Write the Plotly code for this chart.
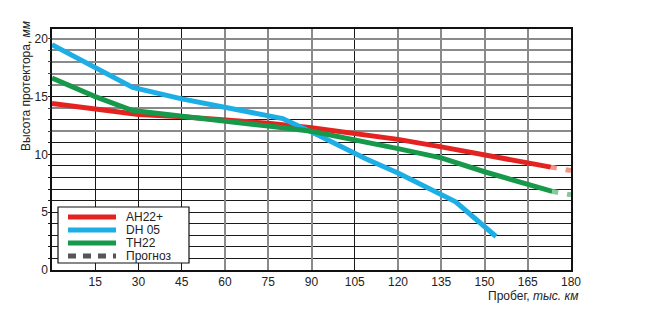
import plotly.graph_objects as go

# ---- data ----
km_ah = [0, 15, 30, 45, 60, 75, 90, 105, 120, 135, 150, 173]
ah22 = [14.4, 13.9, 13.45, 13.25, 13.0, 12.7, 12.3, 11.85, 11.3, 10.65, 9.95, 8.9]
km_ah_fc = [173, 180]
ah22_fc = [8.9, 8.6]

km_dh = [0, 15, 28, 45, 60, 80, 92, 109, 120, 135, 140, 154]
dh05 = [19.5, 17.5, 15.8, 14.8, 14.1, 13.1, 11.7, 9.6, 8.4, 6.6, 5.9, 2.9]

km_th = [0, 15, 28, 45, 60, 75, 90, 105, 120, 135, 150, 173.5]
th22 = [16.6, 15.0, 13.8, 13.35, 12.95, 12.45, 12.0, 11.3, 10.5, 9.7, 8.5, 6.8]
km_th_fc = [173.5, 180]
th22_fc = [6.8, 6.5]

series_names = ["AH22+", "DH 05", "TH22", "Прогноз"]
x_ticks = [15, 30, 45, 60, 75, 90, 105, 120, 135, 150, 165, 180]
y_ticks = [0, 5, 10, 15, 20]
x_dark = [15, 30, 45, 105]
x_light = [60, 75, 90, 120, 135, 150, 165]
y_dark = [1, 2, 3, 4, 5, 6, 7, 8, 9, 10, 11, 13, 15]
y_light = [12, 14, 16, 17, 18, 19, 20]

FONT = "Liberation Sans Narrow, Arial Narrow, Liberation Sans, Arial, sans-serif"
RED, BLUE, GREEN, GREY = "#e42320", "#1eaee6", "#16994a", "#555555"
COLORS = [RED, BLUE, GREEN, GREY]

# plot-area geometry (pixels)
W, H = 660, 310
L, R, T, B = 52, 89, 29, 40
PW, PH = W - L - R, H - T - B


def px(xp):
    return (xp - L) / PW


def py(yp):
    return (H - B - yp) / PH


fig = go.Figure()
# grid carrier traces (drawn first)
fig.add_trace(go.Scatter(x=[None], y=[None], xaxis="x3", yaxis="y3", showlegend=False))
fig.add_trace(go.Scatter(x=[None], y=[None], xaxis="x2", yaxis="y2", showlegend=False))

fig.add_trace(go.Scatter(x=km_ah, y=ah22, mode="lines", name=series_names[0],
                         line=dict(color=RED, width=5)))
fig.add_trace(go.Scatter(x=km_dh, y=dh05, mode="lines", name=series_names[1],
                         line=dict(color=BLUE, width=5)))
fig.add_trace(go.Scatter(x=km_th, y=th22, mode="lines", name=series_names[2],
                         line=dict(color=GREEN, width=5)))
fig.add_trace(go.Scatter(x=km_ah_fc, y=ah22_fc, mode="lines", name=series_names[3],
                         line=dict(color="#f0958a", width=5, dash="6px,9px")))
fig.add_trace(go.Scatter(x=km_th_fc, y=th22_fc, mode="lines", name=series_names[3],
                         line=dict(color="#86c79c", width=5, dash="6px,9px")))

fig.update_layout(
    width=W, height=H,
    margin=dict(l=L, r=R, t=T, b=B),
    paper_bgcolor="white", plot_bgcolor="rgba(0,0,0,0)",
    font=dict(family=FONT, size=12, color="#222"),
    showlegend=False,
    xaxis=dict(range=[0, 180], tickvals=x_ticks, ticks="", showgrid=False,
               showline=True, linecolor="#111", linewidth=1.5, mirror=True,
               zeroline=False, tickfont=dict(size=12)),
    yaxis=dict(range=[0, 20.85], tickvals=y_ticks, ticks="", showgrid=False,
               showline=True, linecolor="#111", linewidth=1.5, mirror=True,
               zeroline=False, tickfont=dict(size=12), ticksuffix="  "),
    xaxis2=dict(overlaying="x", range=[0, 180], tickvals=x_dark, showticklabels=False,
                showgrid=True, gridcolor="#1a1a1a", gridwidth=1.2, zeroline=False),
    yaxis2=dict(overlaying="y", range=[0, 20.85], tickvals=y_dark, showticklabels=False,
                showgrid=True, gridcolor="#1a1a1a", gridwidth=1.2, zeroline=False,
                ticks="outside", ticklen=3, tickcolor="#1a1a1a", tickwidth=1.2),
    xaxis3=dict(overlaying="x", range=[0, 180], tickvals=x_light, showticklabels=False,
                showgrid=True, gridcolor="#8a8a8a", gridwidth=1.5, zeroline=False),
    yaxis3=dict(overlaying="y", range=[0, 20.85], tickvals=y_light, showticklabels=False,
                showgrid=True, gridcolor="#8a8a8a", gridwidth=1.5, zeroline=False,
                ticks="outside", ticklen=3, tickcolor="#444", tickwidth=1.2),
)

# compact legend box
fig.add_shape(type="rect", xref="paper", yref="paper",
              x0=px(58), x1=px(189), y0=py(263), y1=py(207),
              fillcolor="white", line=dict(color="#111", width=1.2), layer="above")
rows = [217, 230, 243, 256]
for i, (name, col) in enumerate(zip(series_names, COLORS)):
    yy = py(rows[i])
    fig.add_shape(type="line", xref="paper", yref="paper",
                  x0=px(68), x1=px(116), y0=yy, y1=yy, layer="above",
                  line=dict(color=col, width=5,
                            dash="8px,7px" if i == 3 else "solid"))
    fig.add_annotation(text=name, xref="paper", yref="paper", x=px(124), y=yy,
                       xanchor="left", yanchor="middle", showarrow=False,
                       font=dict(size=12, family=FONT, color="#222"))

fig.add_annotation(text="Пробег, <i>тыс. км</i>", xref="paper", yref="paper",
                   x=px(580), y=py(296), xanchor="right", yanchor="middle", showarrow=False,
                   font=dict(size=12, family=FONT))
fig.add_annotation(text="Высота протектора, <i>мм</i>", xref="paper", yref="paper",
                   x=px(26), y=py(86), xanchor="center", yanchor="middle", textangle=-90,
                   showarrow=False, font=dict(size=12, family=FONT))

fig.write_html("out.html")
